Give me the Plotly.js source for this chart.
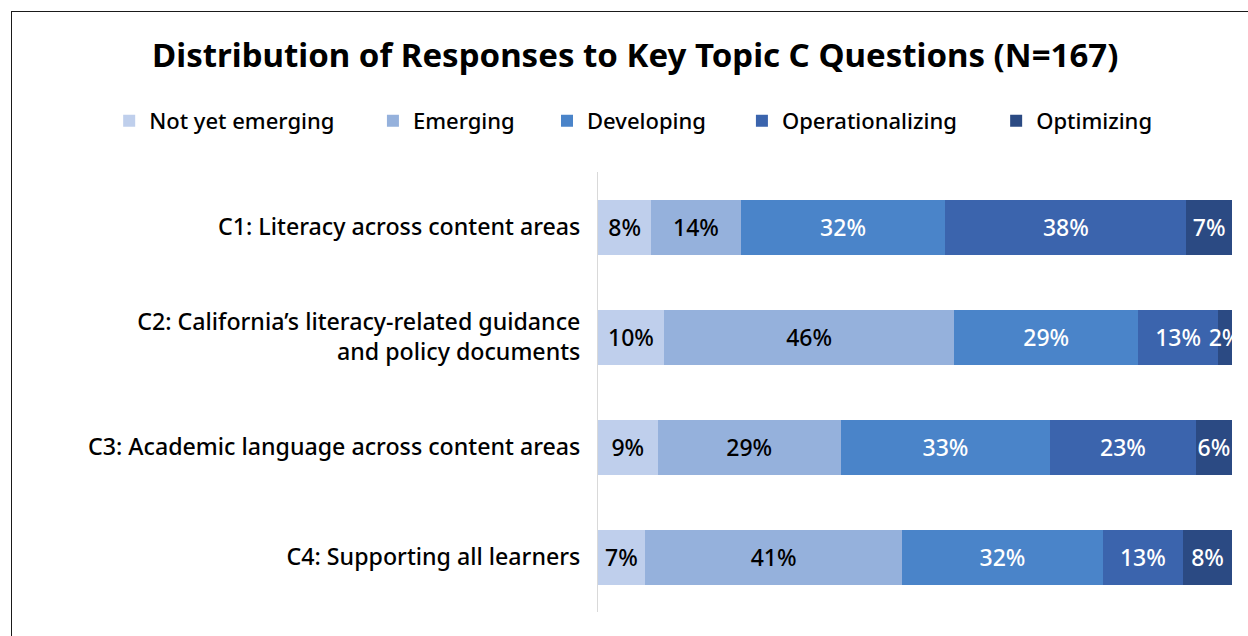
<!DOCTYPE html>
<html>
<head>
<meta charset="utf-8">
<script src="https://cdn.plot.ly/plotly-3.0.1.min.js"></script>
<style>
  html, body { margin: 0; padding: 0; background: #ffffff; }
  #wrap { position: relative; width: 1248px; height: 636px; overflow: hidden; }
  #chart { width: 1248px; height: 636px; }
  #frame { position: absolute; left: 11px; top: 11px; width: 1300px; height: 700px;
           border-top: 1px solid #1a1a1a; border-left: 1px solid #1a1a1a; pointer-events: none; }
</style>
</head>
<body>
<div id="wrap">
  <div id="chart"></div>
  <div id="frame"></div>
</div>
<script>
// ---- data ----
const categories = [
  "C1: Literacy across content areas",
  "C2: California’s literacy-related guidance<br>and policy documents",
  "C3: Academic language across content areas",
  "C4: Supporting all learners"
];
const seriesNames = ["Not yet emerging", "Emerging", "Developing", "Operationalizing", "Optimizing"];
const notYetEmerging   = [8.4, 10.4, 9.4, 7.4];
const emerging         = [14.1, 45.8, 28.9, 40.6];
const developing       = [32.3, 29.0, 33.0, 31.6];
const operationalizing = [38.0, 12.6, 23.0, 12.7];
const optimizing       = [7.2, 2.2, 5.7, 7.7];
const seriesValues = [notYetEmerging, emerging, developing, operationalizing, optimizing];

// ---- styles ----
const colors = ["#BFCFEC", "#95B1DC", "#4A84C9", "#3B64AD", "#2B4A83"];
const textColors = ["#000000", "#000000", "#ffffff", "#ffffff", "#ffffff"];
const FONT = "Noto Sans, Open Sans, sans-serif";
const legendIds = ["legend", "legend2", "legend3", "legend4", "legend5"];
const legendX = [-0.771, -0.355, -0.0804, 0.227, 0.628];

const traces = seriesNames.map((name, i) => ({
  type: "bar",
  orientation: "h",
  name: name,
  y: categories,
  x: seriesValues[i],
  marker: { color: colors[i], line: { width: 0 } },
  texttemplate: "%{x:.0f}%",
  textposition: "inside",
  insidetextanchor: "middle",
  constraintext: "none",
  textangle: 0,
  cliponaxis: false,
  textfont: { family: FONT, size: 23, weight: 500, color: textColors[i] },
  legend: legendIds[i],
  hoverinfo: "skip"
}));

const layout = {
  width: 1248,
  height: 636,
  paper_bgcolor: "#ffffff",
  plot_bgcolor: "#ffffff",
  barmode: "stack",
  bargap: 0.5,
  margin: { l: 598, r: 16, t: 172, b: 24 },
  font: { family: FONT, color: "#000000" },
  title: {
    text: "<b>Distribution of Responses to Key Topic C Questions (N=167)</b>",
    font: { family: FONT, size: 33, color: "#000000" },
    xref: "container", x: 0.509, xanchor: "center",
    yref: "container", y: 0.9135, yanchor: "middle"
  },
  xaxis: {
    range: [0, 100],
    showgrid: false, zeroline: false, showline: false,
    showticklabels: false, ticks: "", fixedrange: true
  },
  yaxis: {
    autorange: "reversed",
    showgrid: false, zeroline: false,
    showline: true, linecolor: "#d9d9d9", linewidth: 1,
    ticks: "", ticklabelstandoff: 12,
    tickfont: { family: FONT, size: 23.2, weight: 500, color: "#000000" },
    fixedrange: true
  },
  showlegend: true
};

legendIds.forEach((id, i) => {
  layout[id] = {
    orientation: "h",
    x: legendX[i], xanchor: "left",
    y: 1.116, yanchor: "middle",
    bgcolor: "rgba(0,0,0,0)",
    borderwidth: 0,
    font: { family: FONT, size: 22, weight: 500, color: "#000000" },
    itemclick: false, itemdoubleclick: false
  };
});

Plotly.newPlot("chart", traces, layout, { staticPlot: true, displayModeBar: false });
</script>
</body>
</html>
